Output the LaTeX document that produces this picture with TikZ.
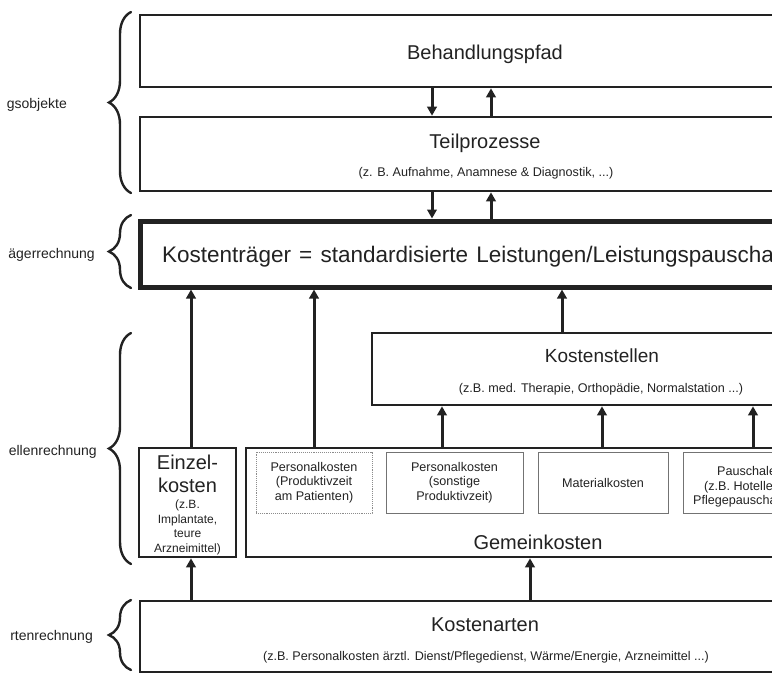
\documentclass[tikz,border=0pt]{standalone}
\usepackage{fontspec}
\setmainfont{Liberation Sans}
\usetikzlibrary{arrows.meta,decorations.pathreplacing}
\definecolor{ink}{HTML}{222222}
\tikzset{
  frame/.style={draw=ink, line width=2.6pt, inner sep=0pt},
  heavyframe/.style={draw=ink, line width=5pt, inner sep=0pt},
  subbox/.style={draw=black!55, line width=0.9pt, inner sep=0pt},
  dotbox/.style={draw=black!45, line width=0.9pt, densely dotted, inner sep=0pt},
  arr/.style={draw=ink, line width=3pt, -{Triangle[width=9.5pt,length=9pt]}},
  lbl/.style={text=ink, inner sep=0pt, anchor=base},
  big/.style={font=\fontsize{20}{24}\selectfont},
  small/.style={font=\fontsize{12.6}{14.5}\selectfont},
  side/.style={text=ink, inner sep=0pt, anchor=base east, font=\fontsize{14}{17}\selectfont},
  curly/.style={draw=ink, line width=2.4pt, line cap=round, decorate,
    decoration={brace, amplitude=22pt}}
}
\begin{document}
\begin{tikzpicture}[x=1pt,y=-1pt]
\useasboundingbox (0,0) rectangle (772,673);
\clip (0,0) rectangle (772,673);

% boxes
\node[frame, minimum width=694pt, minimum height=72pt] (bp) at (487,51) {};
\node[frame, minimum width=694pt, minimum height=74pt] (tp) at (487,154) {};
\node[heavyframe, minimum width=694pt, minimum height=66pt] (kt) at (487,254) {};
\node[frame, minimum width=460pt, minimum height=72pt] (ks) at (602,369) {};
\node[frame, minimum width=97pt, minimum height=109pt] (ez) at (187.5,502.5) {};
\node[frame, minimum width=584pt, minimum height=109pt] (gk) at (538,502.5) {};
\node[frame, minimum width=692pt, minimum height=71pt] (ka) at (486,636.5) {};

% inner boxes
\node[dotbox, minimum width=116pt, minimum height=61pt, small, align=center, text=ink] (pk1) at (314,482.5)
  {Personalkosten\\(Produktivzeit\\am Patienten)};
\node[subbox, minimum width=137pt, minimum height=61pt, small, align=center, text=ink] (pk2) at (454.5,482.5)
  {Personalkosten\\(sonstige\\Produktivzeit)};
\node[subbox, minimum width=130pt, minimum height=61pt, small, text=ink] (mk) at (603,482.5) {Materialkosten};
\node[subbox, minimum width=130pt, minimum height=61pt] (pa) at (748,482.5) {};
\node[lbl, small, anchor=base west] (pa1) at (717,475.5) {Pauschale};
\node[lbl, small, anchor=base west] (pa2) at (704,490) {(z.B. Hotelle};
\node[lbl, small, anchor=base west] (pa3) at (693,504.5) {Pflegepauscha};

% texts
\node[lbl, big] (t1) at (485,59) {Behandlungspfad};
\node[lbl, big] (t2) at (485,148) {Teilprozesse};
\node[lbl, small] (t2s) at (486,176.3) {(z. B. Aufnahme, Anamnese \& Diagnostik, ...)};
\node[lbl, anchor=base west, font=\fontsize{22.5}{26}\selectfont] (t3) at (162,262)
  {\spaceskip=8.2pt plus 1pt Kostenträger = standardisierte Leistungen/Leistungspauscha};
\node[lbl, font=\fontsize{19}{23}\selectfont] (t4) at (602,362) {Kostenstellen};
\node[lbl, small] (t4s) at (601,392.3) {(z.B. med. Therapie, Orthopädie, Normalstation ...)};
\node[lbl, big] (e1) at (187.5,469) {Einzel-};
\node[lbl, big] (e2) at (187.5,492) {kosten};
\node[lbl, font=\fontsize{12}{14}\selectfont] (e3) at (187.5,508.3) {(z.B.};
\node[lbl, font=\fontsize{12}{14}\selectfont] (e4) at (187.5,523.3) {Implantate,};
\node[lbl, font=\fontsize{12}{14}\selectfont] (e5) at (187.5,537.3) {teure};
\node[lbl, font=\fontsize{12}{14}\selectfont] (e6) at (187.5,552.3) {Arzneimittel)};
\node[lbl, big] (t5) at (538,549) {Gemeinkosten};
\node[lbl, big] (t6) at (485,631) {Kostenarten};
\node[lbl, small] (t6s) at (486,660.3) {(z.B. Personalkosten ärztl. Dienst/Pflegedienst, Wärme/Energie, Arzneimittel ...)};

% side labels
\node[side] (s1) at (67,108) {gsobjekte};
\node[side] (s2) at (95,258) {ägerrechnung};
\node[side] (s3) at (97,455) {ellenrechnung};
\node[side] (s4) at (93,640) {rtenrechnung};

% braces
\draw[curly] (131,193) -- (131,12);
\draw[curly] (131,288) -- (131,215);
\draw[curly] (131,564) -- (131,333);
\draw[curly] (131,670) -- (131,600);

% arrow columns
\coordinate (xa) at (432,0);
\coordinate (xb) at (491,0);
\coordinate (xc) at (191,0);
\coordinate (xd) at (314,0);
\coordinate (xe) at (562,0);
\coordinate (xf) at (442,0);
\coordinate (xg) at (602,0);
\coordinate (xh) at (753,0);
\coordinate (xi) at (530,0);

\draw[arr] (xa |- bp.south) -- (xa |- tp.north);
\draw[arr] (xb |- tp.north) -- (xb |- bp.south);
\draw[arr] (xa |- tp.south) -- (xa |- kt.north);
\draw[arr] (xb |- kt.north) -- (xb |- tp.south);
\draw[arr] (xc |- ez.north) -- (xc |- kt.south);
\draw[arr] (xd |- gk.north) -- (xd |- kt.south);
\draw[arr] (xe |- ks.north) -- (xe |- kt.south);
\draw[arr] (xf |- gk.north) -- (xf |- ks.south);
\draw[arr] (xg |- gk.north) -- (xg |- ks.south);
\draw[arr] (xh |- gk.north) -- (xh |- ks.south);
\draw[arr] (xc |- ka.north) -- (xc |- ez.south);
\draw[arr] (xi |- ka.north) -- (xi |- gk.south);
\end{tikzpicture}
\end{document}
